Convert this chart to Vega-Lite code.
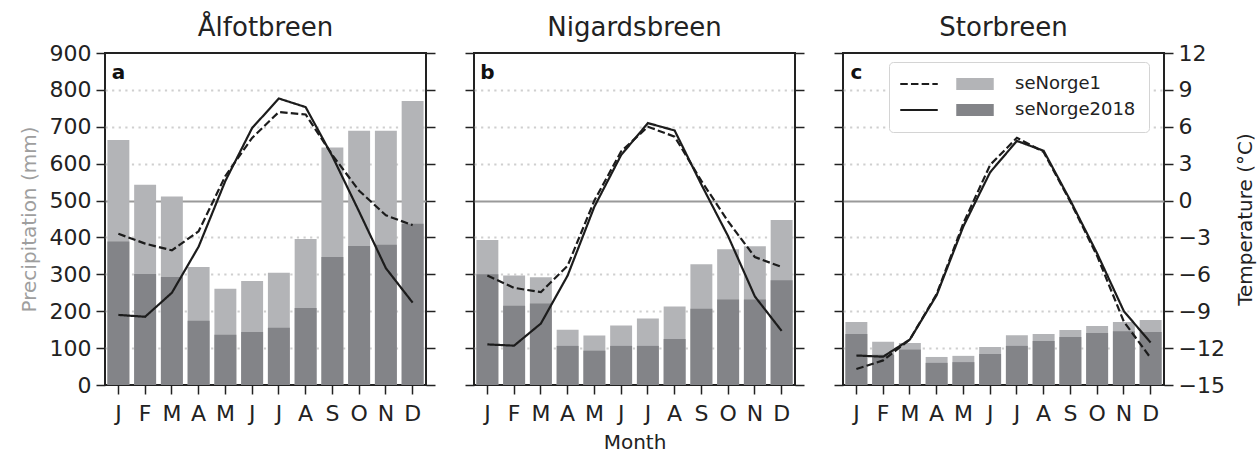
{
  "$schema": "https://vega.github.io/schema/vega-lite/v6.json",
  "padding": {"left": 18, "top": 14, "right": 5, "bottom": 0},
  "config": {
    "font": "DejaVu Sans",
    "view": {"stroke": "#222222", "strokeWidth": 2},
    "axis": {"domain": false, "tickColor": "#222222", "tickWidth": 1.5, "tickSize": 9, "labelFont": "DejaVu Sans", "labelFontSize": 22, "labelColor": "#222222", "titleFont": "DejaVu Sans", "titleFontSize": 20, "titleFontWeight": "normal", "titleColor": "#222222", "grid": false},
    "title": {"font": "DejaVu Sans", "fontSize": 26, "fontWeight": "normal", "color": "#222222", "anchor": "middle"}
  },
  "resolve": {"scale": {"color": "independent", "strokeDash": "independent"}, "legend": {"color": "independent", "strokeDash": "independent"}},
  "datasets": {
    "clim": [
      {"panel": "a", "dataset": "seNorge1", "month": 1, "precip": 664, "temp": -2.7},
      {"panel": "a", "dataset": "seNorge1", "month": 2, "precip": 543, "temp": -3.5},
      {"panel": "a", "dataset": "seNorge1", "month": 3, "precip": 511, "temp": -4.05},
      {"panel": "a", "dataset": "seNorge1", "month": 4, "precip": 320, "temp": -2.5},
      {"panel": "a", "dataset": "seNorge1", "month": 5, "precip": 261, "temp": 2.0},
      {"panel": "a", "dataset": "seNorge1", "month": 6, "precip": 282, "temp": 5.1},
      {"panel": "a", "dataset": "seNorge1", "month": 7, "precip": 304, "temp": 7.2},
      {"panel": "a", "dataset": "seNorge1", "month": 8, "precip": 396, "temp": 7.0},
      {"panel": "a", "dataset": "seNorge1", "month": 9, "precip": 644, "temp": 3.7},
      {"panel": "a", "dataset": "seNorge1", "month": 10, "precip": 689, "temp": 0.8},
      {"panel": "a", "dataset": "seNorge1", "month": 11, "precip": 689, "temp": -1.2},
      {"panel": "a", "dataset": "seNorge1", "month": 12, "precip": 770, "temp": -2.0},
      {"panel": "b", "dataset": "seNorge1", "month": 1, "precip": 393, "temp": -6.1},
      {"panel": "b", "dataset": "seNorge1", "month": 2, "precip": 297, "temp": -7.1},
      {"panel": "b", "dataset": "seNorge1", "month": 3, "precip": 292, "temp": -7.45},
      {"panel": "b", "dataset": "seNorge1", "month": 4, "precip": 150, "temp": -5.3},
      {"panel": "b", "dataset": "seNorge1", "month": 5, "precip": 134, "temp": 0.0},
      {"panel": "b", "dataset": "seNorge1", "month": 6, "precip": 161, "temp": 4.0},
      {"panel": "b", "dataset": "seNorge1", "month": 7, "precip": 180, "temp": 6.0},
      {"panel": "b", "dataset": "seNorge1", "month": 8, "precip": 213, "temp": 5.2},
      {"panel": "b", "dataset": "seNorge1", "month": 9, "precip": 327, "temp": 1.6},
      {"panel": "b", "dataset": "seNorge1", "month": 10, "precip": 368, "temp": -1.7},
      {"panel": "b", "dataset": "seNorge1", "month": 11, "precip": 376, "temp": -4.6},
      {"panel": "b", "dataset": "seNorge1", "month": 12, "precip": 447, "temp": -5.4},
      {"panel": "c", "dataset": "seNorge1", "month": 1, "precip": 171, "temp": -13.7},
      {"panel": "c", "dataset": "seNorge1", "month": 2, "precip": 117, "temp": -13.0},
      {"panel": "c", "dataset": "seNorge1", "month": 3, "precip": 114, "temp": -11.3},
      {"panel": "c", "dataset": "seNorge1", "month": 4, "precip": 76, "temp": -7.6},
      {"panel": "c", "dataset": "seNorge1", "month": 5, "precip": 79, "temp": -1.85},
      {"panel": "c", "dataset": "seNorge1", "month": 6, "precip": 103, "temp": 2.9},
      {"panel": "c", "dataset": "seNorge1", "month": 7, "precip": 135, "temp": 5.1},
      {"panel": "c", "dataset": "seNorge1", "month": 8, "precip": 138, "temp": 3.95},
      {"panel": "c", "dataset": "seNorge1", "month": 9, "precip": 149, "temp": -0.1},
      {"panel": "c", "dataset": "seNorge1", "month": 10, "precip": 160, "temp": -4.5},
      {"panel": "c", "dataset": "seNorge1", "month": 11, "precip": 171, "temp": -9.85},
      {"panel": "c", "dataset": "seNorge1", "month": 12, "precip": 176, "temp": -12.8},
      {"panel": "a", "dataset": "seNorge2018", "month": 1, "precip": 389, "temp": -9.3},
      {"panel": "a", "dataset": "seNorge2018", "month": 2, "precip": 301, "temp": -9.45},
      {"panel": "a", "dataset": "seNorge2018", "month": 3, "precip": 293, "temp": -7.5},
      {"panel": "a", "dataset": "seNorge2018", "month": 4, "precip": 174, "temp": -3.75},
      {"panel": "a", "dataset": "seNorge2018", "month": 5, "precip": 136, "temp": 1.6},
      {"panel": "a", "dataset": "seNorge2018", "month": 6, "precip": 144, "temp": 5.9},
      {"panel": "a", "dataset": "seNorge2018", "month": 7, "precip": 155, "temp": 8.3},
      {"panel": "a", "dataset": "seNorge2018", "month": 8, "precip": 209, "temp": 7.6},
      {"panel": "a", "dataset": "seNorge2018", "month": 9, "precip": 347, "temp": 3.6},
      {"panel": "a", "dataset": "seNorge2018", "month": 10, "precip": 377, "temp": -0.9},
      {"panel": "a", "dataset": "seNorge2018", "month": 11, "precip": 380, "temp": -5.5},
      {"panel": "a", "dataset": "seNorge2018", "month": 12, "precip": 437, "temp": -8.3},
      {"panel": "b", "dataset": "seNorge2018", "month": 1, "precip": 300, "temp": -11.7},
      {"panel": "b", "dataset": "seNorge2018", "month": 2, "precip": 215, "temp": -11.8},
      {"panel": "b", "dataset": "seNorge2018", "month": 3, "precip": 221, "temp": -10.0},
      {"panel": "b", "dataset": "seNorge2018", "month": 4, "precip": 106, "temp": -6.1},
      {"panel": "b", "dataset": "seNorge2018", "month": 5, "precip": 93, "temp": -0.5},
      {"panel": "b", "dataset": "seNorge2018", "month": 6, "precip": 106, "temp": 3.7},
      {"panel": "b", "dataset": "seNorge2018", "month": 7, "precip": 106, "temp": 6.3},
      {"panel": "b", "dataset": "seNorge2018", "month": 8, "precip": 125, "temp": 5.7},
      {"panel": "b", "dataset": "seNorge2018", "month": 9, "precip": 207, "temp": 1.3},
      {"panel": "b", "dataset": "seNorge2018", "month": 10, "precip": 232, "temp": -2.9},
      {"panel": "b", "dataset": "seNorge2018", "month": 11, "precip": 232, "temp": -7.8},
      {"panel": "b", "dataset": "seNorge2018", "month": 12, "precip": 284, "temp": -10.6},
      {"panel": "c", "dataset": "seNorge2018", "month": 1, "precip": 138, "temp": -12.6},
      {"panel": "c", "dataset": "seNorge2018", "month": 2, "precip": 82, "temp": -12.7},
      {"panel": "c", "dataset": "seNorge2018", "month": 3, "precip": 96, "temp": -11.3},
      {"panel": "c", "dataset": "seNorge2018", "month": 4, "precip": 60, "temp": -7.7},
      {"panel": "c", "dataset": "seNorge2018", "month": 5, "precip": 62, "temp": -2.1},
      {"panel": "c", "dataset": "seNorge2018", "month": 6, "precip": 84, "temp": 2.3},
      {"panel": "c", "dataset": "seNorge2018", "month": 7, "precip": 106, "temp": 4.85},
      {"panel": "c", "dataset": "seNorge2018", "month": 8, "precip": 119, "temp": 4.05},
      {"panel": "c", "dataset": "seNorge2018", "month": 9, "precip": 130, "temp": 0.0},
      {"panel": "c", "dataset": "seNorge2018", "month": 10, "precip": 141, "temp": -4.3},
      {"panel": "c", "dataset": "seNorge2018", "month": 11, "precip": 146, "temp": -9.0},
      {"panel": "c", "dataset": "seNorge2018", "month": 12, "precip": 144, "temp": -11.55}
    ]
  },
  "hconcat": [
    {
      "width": 321, "height": 332,
      "title": {"text": "Ålfotbreen", "offset": 1},
      "data": {"name": "clim"},
      "transform": [{"filter": "datum.panel === 'a'"}],
      "layer": [
        {
          "mark": {"type": "bar"},
          "encoding": {
            "x": {"field": "month", "type": "ordinal", "scale": {"paddingInner": 0.18, "paddingOuter": 0.09}, "axis": {"title": null, "labelAngle": 0, "labelPadding": 9, "labelExpr": "['J','F','M','A','M','J','J','A','S','O','N','D'][datum.value-1]"}},
            "y": {"field": "precip", "type": "quantitative", "stack": null, "scale": {"domain": [0, 900], "nice": false}, "axis": {"orient": "left", "values": [0,100,200,300,400,500,600,700,800,900], "title": "Precipitation (mm)", "titleColor": "#9e9e9e", "titlePadding": 10, "labelPadding": 5, "grid": true, "gridWidth": 2.2, "gridColor": {"condition": {"test": "datum.value === 500", "value": "#9a9a9a"}, "value": "#cfcfcf"}, "gridDash": {"condition": {"test": "datum.value === 500", "value": []}, "value": [2.2, 4.4]}, "gridOpacity": {"condition": {"test": "datum.value === 0 || datum.value === 900", "value": 0}, "value": 1}}},
            "color": {"field": "dataset", "type": "nominal", "scale": {"domain": ["seNorge1", "seNorge2018"], "range": ["#b3b4b7", "#838488"]}, "legend": null}
          }
        },
        {
          "mark": {"type": "line", "strokeWidth": 2.2, "color": "#1c1c1c"},
          "encoding": {
            "x": {"field": "month", "type": "ordinal"},
            "y": {"field": "temp", "type": "quantitative", "scale": {"domain": [-15, 12], "nice": false}, "axis": {"orient": "right", "values": [-15,-12,-9,-6,-3,0,3,6,9,12], "labels": false, "title": null}},
            "strokeDash": {"field": "dataset", "type": "nominal", "scale": {"domain": ["seNorge2018", "seNorge1"], "range": [[1, 0], [7.5, 3.2]]}, "legend": null}
          }
        },
        {
          "data": {"values": [{"label": "a"}]},
          "mark": {"type": "text", "fontWeight": "bold", "fontSize": 20, "align": "center", "baseline": "middle", "color": "#111111"},
          "encoding": {
            "x": {"datum": 1, "type": "ordinal"},
            "y": {"datum": 846, "type": "quantitative", "scale": {"domain": [0, 900]}, "axis": null},
            "text": {"field": "label"}
          }
        }
      ],
      "resolve": {"scale": {"y": "independent"}}
    },
    {
      "width": 321, "height": 332,
      "title": {"text": "Nigardsbreen", "offset": 11},
      "data": {"name": "clim"},
      "transform": [{"filter": "datum.panel === 'b'"}],
      "layer": [
        {
          "mark": {"type": "bar"},
          "encoding": {
            "x": {"field": "month", "type": "ordinal", "scale": {"paddingInner": 0.18, "paddingOuter": 0.09}, "axis": {"title": "Month", "titleFontSize": 20, "titlePadding": 8, "labelAngle": 0, "labelPadding": 9, "labelExpr": "['J','F','M','A','M','J','J','A','S','O','N','D'][datum.value-1]"}},
            "y": {"field": "precip", "type": "quantitative", "stack": null, "scale": {"domain": [0, 900], "nice": false}, "axis": {"orient": "left", "values": [0,100,200,300,400,500,600,700,800,900], "title": null, "labels": false, "grid": true, "gridWidth": 2.2, "gridColor": {"condition": {"test": "datum.value === 500", "value": "#9a9a9a"}, "value": "#cfcfcf"}, "gridDash": {"condition": {"test": "datum.value === 500", "value": []}, "value": [2.2, 4.4]}, "gridOpacity": {"condition": {"test": "datum.value === 0 || datum.value === 900", "value": 0}, "value": 1}}},
            "color": {"field": "dataset", "type": "nominal", "scale": {"domain": ["seNorge1", "seNorge2018"], "range": ["#b3b4b7", "#838488"]}, "legend": null}
          }
        },
        {
          "mark": {"type": "line", "strokeWidth": 2.2, "color": "#1c1c1c"},
          "encoding": {
            "x": {"field": "month", "type": "ordinal"},
            "y": {"field": "temp", "type": "quantitative", "scale": {"domain": [-15, 12], "nice": false}, "axis": {"orient": "right", "values": [-15,-12,-9,-6,-3,0,3,6,9,12], "labels": false, "title": null}},
            "strokeDash": {"field": "dataset", "type": "nominal", "scale": {"domain": ["seNorge2018", "seNorge1"], "range": [[1, 0], [7.5, 3.2]]}, "legend": null}
          }
        },
        {
          "data": {"values": [{"label": "b"}]},
          "mark": {"type": "text", "fontWeight": "bold", "fontSize": 20, "align": "center", "baseline": "middle", "color": "#111111"},
          "encoding": {
            "x": {"datum": 1, "type": "ordinal"},
            "y": {"datum": 846, "type": "quantitative", "scale": {"domain": [0, 900]}, "axis": null},
            "text": {"field": "label"}
          }
        }
      ],
      "resolve": {"scale": {"y": "independent"}}
    },
    {
      "width": 321, "height": 332,
      "title": {"text": "Storbreen", "offset": 1},
      "data": {"name": "clim"},
      "transform": [{"filter": "datum.panel === 'c'"}],
      "layer": [
        {
          "mark": {"type": "bar"},
          "encoding": {
            "x": {"field": "month", "type": "ordinal", "scale": {"paddingInner": 0.18, "paddingOuter": 0.09}, "axis": {"title": null, "labelAngle": 0, "labelPadding": 9, "labelExpr": "['J','F','M','A','M','J','J','A','S','O','N','D'][datum.value-1]"}},
            "y": {"field": "precip", "type": "quantitative", "stack": null, "scale": {"domain": [0, 900], "nice": false}, "axis": {"orient": "left", "values": [0,100,200,300,400,500,600,700,800,900], "title": null, "labels": false, "grid": true, "gridWidth": 2.2, "gridColor": {"condition": {"test": "datum.value === 500", "value": "#9a9a9a"}, "value": "#cfcfcf"}, "gridDash": {"condition": {"test": "datum.value === 500", "value": []}, "value": [2.2, 4.4]}, "gridOpacity": {"condition": {"test": "datum.value === 0 || datum.value === 900", "value": 0}, "value": 1}}},
            "color": {"field": "dataset", "type": "nominal", "scale": {"domain": ["seNorge1", "seNorge2018"], "range": ["#b3b4b7", "#838488"]}, "legend": {"orient": "none", "legendX": 46, "legendY": 9, "title": "\u00a0", "titleFontSize": 1, "titleOrient": "left", "titlePadding": 64, "padding": 13, "fillColor": "#ffffff", "strokeColor": "#d4d4d4", "cornerRadius": 4, "symbolType": "M-2.5,-0.8H2.5V0.8H-2.5Z", "symbolSize": 225, "symbolStrokeWidth": 0, "symbolOpacity": 1, "labelFontSize": 18, "labelColor": "#222222", "labelOffset": 31, "rowPadding": 8}}
          }
        },
        {
          "mark": {"type": "line", "strokeWidth": 2.2, "color": "#1c1c1c"},
          "encoding": {
            "x": {"field": "month", "type": "ordinal"},
            "y": {"field": "temp", "type": "quantitative", "scale": {"domain": [-15, 12], "nice": false}, "axis": {"orient": "right", "values": [-15,-12,-9,-6,-3,0,3,6,9,12], "title": "Temperature (°C)", "titleAngle": 270, "titlePadding": 31, "labelPadding": 5}},
            "strokeDash": {"field": "dataset", "type": "nominal", "scale": {"domain": ["seNorge2018", "seNorge1"], "range": [[1, 0], [7.5, 3.2]]}, "legend": {"orient": "none", "legendX": 67, "legendY": 22, "title": null, "values": ["seNorge1", "seNorge2018"], "padding": 0, "symbolType": "M-2.5,0H2.5", "symbolSize": 225, "symbolStrokeWidth": 2.2, "symbolStrokeColor": "#1c1c1c", "symbolFillColor": "transparent", "labelFontSize": 18, "labelExpr": "''", "rowPadding": 8}}
          }
        },
        {
          "data": {"values": [{"label": "c"}]},
          "mark": {"type": "text", "fontWeight": "bold", "fontSize": 20, "align": "center", "baseline": "middle", "color": "#111111"},
          "encoding": {
            "x": {"datum": 1, "type": "ordinal"},
            "y": {"datum": 846, "type": "quantitative", "scale": {"domain": [0, 900]}, "axis": null},
            "text": {"field": "label"}
          }
        }
      ],
      "resolve": {"scale": {"y": "independent"}}
    }
  ],
  "spacing": 48,
  "bounds": "flush"
}
